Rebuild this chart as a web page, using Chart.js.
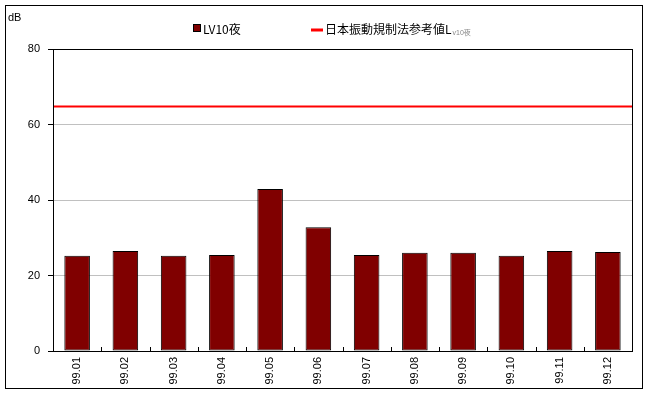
<!DOCTYPE html>
<html>
<head>
<meta charset="utf-8">
<script src="https://cdn.jsdelivr.net/npm/chart.js@4"></script>
<style>
    html, body { margin: 0; padding: 0; background: #fff; }
    #wrap { width: 648px; height: 395px; position: relative; }
</style>
</head>
<body>
<div id="wrap"><canvas id="chart"></canvas></div>
<script>
// Chart data
const months = ['99.01', '99.02', '99.03', '99.04', '99.05', '99.06',
                '99.07', '99.08', '99.09', '99.10', '99.11', '99.12'];
const lv10Night = [25.2, 26.5, 25.2, 25.4, 42.9, 32.8, 25.4, 26.0, 26.0, 25.2, 26.5, 26.2];
const referenceValue = 65;
const yTicks = [0, 20, 40, 60, 80];

const seriesName = 'LV10夜';
const refName = '日本振動規制法参考値L';
const refSub = 'v10夜';

const fontTick = "'Liberation Sans', 'Noto Sans CJK JP', sans-serif";
const fontCjk = "'Noto Sans CJK JP', 'Liberation Serif', serif";

// Reference line, plot frame and small category ticks
const overlayPlugin = {
    id: 'overlay',
    afterDatasetsDraw(chart) {
        const ctx = chart.ctx;
        const a = chart.chartArea;
        const x = chart.scales.x, y = chart.scales.y;
        ctx.save();
        // reference line (65 dB)
        const ry = Math.round(y.getPixelForValue(referenceValue)) + 0.5;
        ctx.strokeStyle = '#ff0000';
        ctx.lineWidth = 2;
        ctx.beginPath();
        ctx.moveTo(a.left, ry);
        ctx.lineTo(a.right, ry);
        ctx.stroke();

        // plot frame
        ctx.strokeStyle = '#000';
        ctx.lineWidth = 1;
        ctx.strokeRect(Math.round(a.left) + 0.5, Math.round(a.top) + 0.5,
                       Math.round(a.right - a.left), Math.round(a.bottom - a.top));

        // small tick marks inside the plot at category boundaries
        ctx.beginPath();
        const b = Math.round(a.bottom);
        for (let i = 1; i < months.length; i++) {
            const px = Math.round((x.getPixelForValue(i - 1) + x.getPixelForValue(i)) / 2) + 0.5;
            ctx.moveTo(px, b);
            ctx.lineTo(px, b - 4);
        }
        ctx.stroke();
        ctx.restore();
    },
    afterDraw(chart) {
        const ctx = chart.ctx;
        ctx.save();
        // outer frame
        ctx.strokeStyle = '#000';
        ctx.lineWidth = 1;
        ctx.strokeRect(5.5, 5.5, 637, 383);

        // unit
        ctx.fillStyle = '#000';
        ctx.font = '11px ' + fontTick;
        ctx.textBaseline = 'middle';
        ctx.textAlign = 'left';
        ctx.fillText('dB', 8, 18);

        // legend: bar series
        ctx.fillStyle = '#800000';
        ctx.fillRect(193, 24, 8, 8);
        ctx.strokeStyle = '#000';
        ctx.strokeRect(193.5, 24.5, 7, 7);
        ctx.fillStyle = '#000';
        ctx.font = '12px ' + fontCjk;
        ctx.fillText(seriesName, 203, 29);

        // legend: reference line
        ctx.strokeStyle = '#ff0000';
        ctx.lineWidth = 3;
        ctx.beginPath();
        ctx.moveTo(311, 30);
        ctx.lineTo(323, 30);
        ctx.stroke();
        ctx.fillStyle = '#000';
        ctx.font = '12px ' + fontCjk;
        ctx.fillText(refName, 325, 29);
        const w = ctx.measureText(refName).width;
        ctx.fillStyle = '#888';
        ctx.font = '7px ' + fontTick;
        ctx.fillText(refSub, 325 + w + 1, 33);
        ctx.restore();
    }
};

new Chart(document.getElementById('chart'), {
    type: 'bar',
    data: {
        labels: months,
        datasets: [
            {
                label: seriesName,
                data: lv10Night,
                backgroundColor: '#800000',
                borderColor: '#000',
                borderWidth: 1,
                borderSkipped: false,
                barPercentage: 0.53,
                categoryPercentage: 1
            }
        ]
    },
    options: {
        responsive: true,
        maintainAspectRatio: false,
        animation: false,
        layout: { padding: { top: 49, right: 16, left: 0, bottom: 0 } },
        plugins: {
            legend: { display: false },
            tooltip: { enabled: false }
        },
        scales: {
            x: {
                grid: { display: false, drawTicks: false },
                border: { color: '#000', width: 1 },
                ticks: {
                    minRotation: 90,
                    maxRotation: 90,
                    color: '#000',
                    padding: 6,
                    font: { family: fontTick, size: 11 }
                },
                afterFit(scale) { scale.height = 44; }
            },
            y: {
                min: 0,
                max: 80,
                afterBuildTicks(scale) { scale.ticks = yTicks.map(v => ({ value: v })); },
                grid: {
                    color: '#c0c0c0',
                    lineWidth: 1,
                    tickColor: '#000',
                    tickLength: 5
                },
                border: { color: '#000', width: 1 },
                ticks: {
                    color: '#000',
                    padding: 8,
                    font: { family: fontTick, size: 11 }
                },
                afterFit(scale) { scale.width = 53; }
            }
        }
    },
    plugins: [overlayPlugin]
});
</script>
</body>
</html>
